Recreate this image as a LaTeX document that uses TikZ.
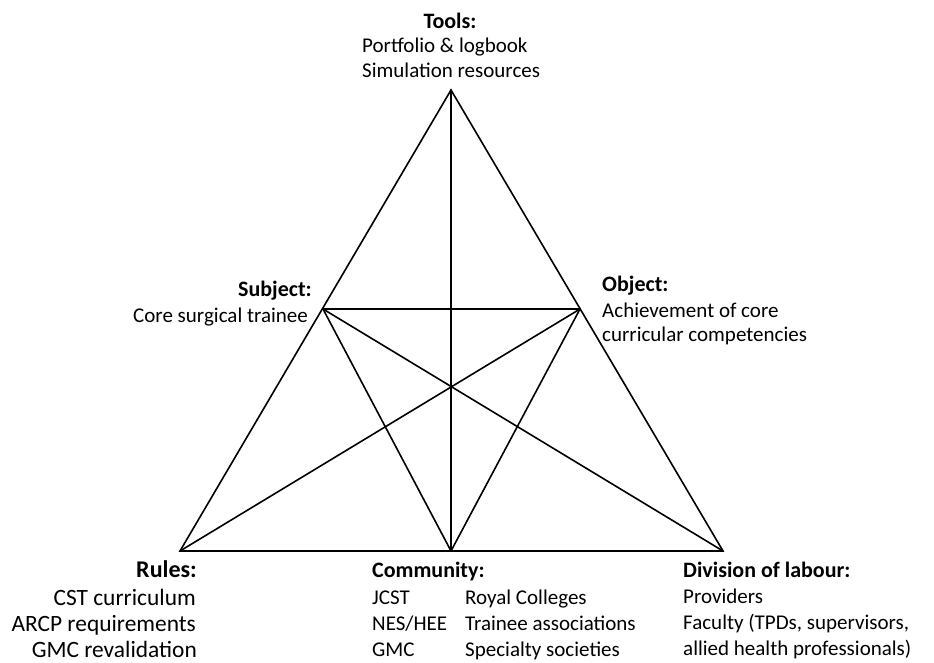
\documentclass[tikz,border=0pt]{standalone}
\usepackage{fontspec}
\setmainfont{Carlito}
\begin{document}
\begin{tikzpicture}[x=1pt,y=-1pt,
  edge/.style={line width=1.6pt, line cap=round, line join=miter},
  lbl/.style={inner sep=0pt, font=\fontsize{22}{26}\selectfont\bfseries},
  txt/.style={inner sep=0pt, font=\fontsize{21}{26}\selectfont},
  rlbl/.style={inner sep=0pt, font=\fontsize{24}{28}\selectfont\bfseries},
  rtxt/.style={inner sep=0pt, font=\fontsize{23.4}{28}\selectfont}]
\useasboundingbox (0,0) rectangle (934,662);
% vertices
\coordinate (T) at (451,90);
\coordinate (BL) at (180,551);
\coordinate (BR) at (723,551);
\coordinate (BM) at (451,551);
\coordinate (S) at (323,309);
\coordinate (O) at (580,309);
% connectors
\draw[edge] (T) -- (BL) -- (BR) -- cycle;
\draw[edge] (T) -- (BM);
\draw[edge] (S) -- (O);
\draw[edge] (S) -- (BM);
\draw[edge] (S) -- (BR);
\draw[edge] (O) -- (BL);
\draw[edge] (O) -- (BM);
% Tools
\node[lbl, anchor=base] (tools) at (450,28) {Tools:};
\node[txt, anchor=base west] (tools1) at (362,52) {Portfolio \& logbook};
\node[txt, anchor=base west] (tools2) at (362,77) {Simulation resources};
% Subject
\node[lbl, anchor=base east] (subj) at (312,296) {Subject:};
\node[txt, anchor=base east] (subj1) at (308,322) {Core surgical trainee};
% Object
\node[lbl, anchor=base west] (obj) at (602,291) {Object:};
\node[txt, anchor=base west] (obj1) at (602,317) {Achievement of core};
\node[txt, anchor=base west] (obj2) at (602,341) {curricular competencies};
% Rules
\node[rlbl, anchor=base east] (rules) at (197,577) {Rules:};
\node[rtxt, anchor=base east] (rules1) at (196,605) {CST curriculum};
\node[rtxt, anchor=base east] (rules2) at (196,631) {ARCP requirements};
\node[rtxt, anchor=base east] (rules3) at (197,657) {GMC revalidation};
% Community
\node[lbl, anchor=base west] (comm) at (372,577) {Community:};
\node[txt, anchor=base west] (comm1) at (372,604) {JCST};
\node[txt, anchor=base west] (comm2) at (372,630) {NES/HEE};
\node[txt, anchor=base west] (comm3) at (372,656) {GMC};
\node[txt, anchor=base west] (comm4) at (465,604) {Royal Colleges};
\node[txt, anchor=base west] (comm5) at (465,630) {Trainee associations};
\node[txt, anchor=base west] (comm6) at (465,656) {Specialty societies};
% Division of labour
\node[lbl, anchor=base west] (div) at (683,577) {Division of labour:};
\node[txt, anchor=base west] (div1) at (683,603) {Providers};
\node[txt, anchor=base west] (div2) at (683,629) {Faculty (TPDs, supervisors,};
\node[txt, anchor=base west] (div3) at (683,655) {allied health professionals)};
\end{tikzpicture}
\end{document}
